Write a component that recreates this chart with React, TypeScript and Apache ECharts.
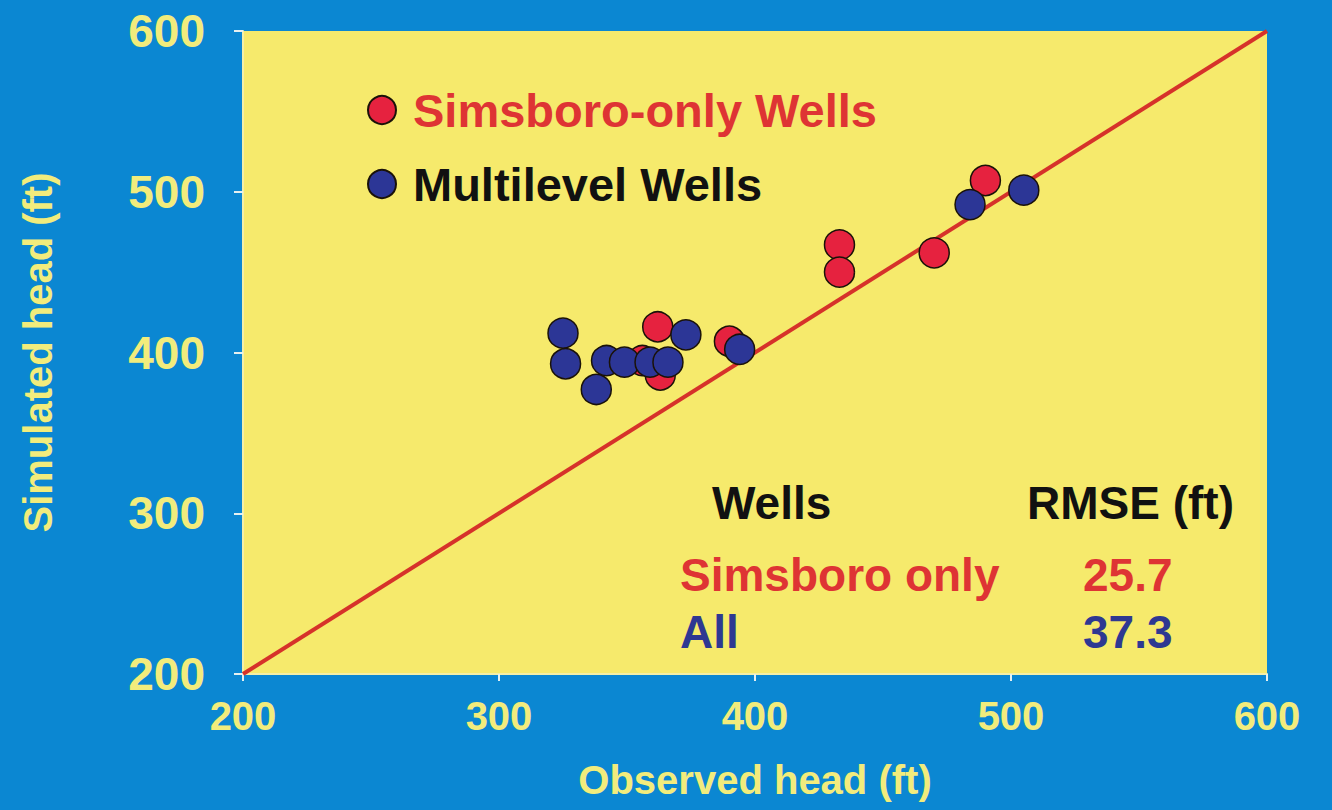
import React, { useEffect, useRef } from "react";
import * as echarts from "echarts";

// Observed vs simulated head (ft)
const simsboroOnly: [number, number][] = [
  [490, 507],
  [433, 467],
  [433, 450],
  [470, 462],
  [362, 416],
  [390, 407],
  [363, 386],
  [356, 395],
];
const multilevel: [number, number][] = [
  [505, 501],
  [484, 492],
  [394, 402],
  [325, 412],
  [326, 393],
  [338, 377],
  [342, 395],
  [349, 394],
  [359, 394],
  [366, 394],
  [373, 411],
];
const identityLine: [number, number][] = [
  [200, 200],
  [600, 600],
];
const axisMin = 200;
const axisMax = 600;
const axisInterval = 100;
const seriesNames = ["Simsboro-only Wells", "Multilevel Wells"];
const tableHeader = ["Wells", "RMSE (ft)"];
const tableRows = [
  { label: "Simsboro only", value: "25.7" },
  { label: "All", value: "37.3" },
];

const BG = "#0b87d2";
const PLOT = "#f6ea6c";
const RED = "#e6223f";
const BLUE = "#2c3696";
const LINE_RED = "#d6322a";
const LABEL_YEL = "#f2ec7c";
const TEXT_RED = "#de3434";
const TEXT_BLUE = "#2e3892";
const FONT = "'Liberation Sans', Arial, sans-serif";

export default function App() {
  const ref = useRef<HTMLDivElement>(null);
  useEffect(() => {
    if (!ref.current) return;
    const chart = echarts.init(ref.current, null, { renderer: "svg" });
    const tableStyle = { fontFamily: FONT, fontWeight: "bold", fontSize: 46 } as any;
    chart.setOption({
      animation: false,
      backgroundColor: BG,
      grid: {
        left: 243,
        right: 65,
        top: 31,
        bottom: 136,
        show: true,
        backgroundColor: PLOT,
        borderWidth: 0,
      },
      legend: {
        orient: "vertical",
        left: 362,
        top: 78,
        icon: "circle",
        itemWidth: 28,
        itemHeight: 28,
        itemGap: 20,
        selectedMode: false,
        data: [
          { name: seriesNames[0], textStyle: { color: TEXT_RED } },
          { name: seriesNames[1], textStyle: { color: "#111111" } },
        ],
        textStyle: {
          fontFamily: FONT,
          fontWeight: "bold",
          fontSize: 47,
          lineHeight: 54,
          padding: [0, 0, 0, 12],
        },
      },
      xAxis: {
        type: "value",
        min: axisMin,
        max: axisMax,
        interval: axisInterval,
        name: "Observed head (ft)",
        nameLocation: "middle",
        nameGap: 86,
        nameTextStyle: {
          color: LABEL_YEL,
          fontFamily: FONT,
          fontWeight: "bold",
          fontSize: 40,
        },
        axisLine: { show: true, lineStyle: { color: "#f4efa8", width: 2 } },
        axisTick: { show: true, length: 7, lineStyle: { color: "#e6f0f0", width: 2 } },
        axisLabel: {
          color: LABEL_YEL,
          fontFamily: FONT,
          fontWeight: "bold",
          fontSize: 40,
          margin: 22,
        },
        splitLine: { show: false },
      },
      yAxis: {
        type: "value",
        min: axisMin,
        max: axisMax,
        interval: axisInterval,
        name: "Simulated head (ft)",
        nameLocation: "middle",
        nameRotate: 90,
        nameGap: 185,
        nameTextStyle: {
          color: LABEL_YEL,
          fontFamily: FONT,
          fontWeight: "bold",
          fontSize: 40,
        },
        axisLine: { show: true, lineStyle: { color: "#f4efa8", width: 2 } },
        axisTick: { show: true, length: 9, lineStyle: { color: "#e6f0f0", width: 2 } },
        axisLabel: {
          color: LABEL_YEL,
          fontFamily: FONT,
          fontWeight: "bold",
          fontSize: 46,
          margin: 38,
        },
        splitLine: { show: false },
      },
      series: [
        {
          type: "line",
          data: identityLine,
          symbol: "none",
          lineStyle: { color: LINE_RED, width: 4 },
          silent: true,
          z: 1,
        },
        {
          name: seriesNames[0],
          type: "scatter",
          data: simsboroOnly,
          symbolSize: 30,
          itemStyle: { color: RED, borderColor: "#1a1208", borderWidth: 1.5, opacity: 1 },
          z: 2,
        },
        {
          name: seriesNames[1],
          type: "scatter",
          data: multilevel,
          symbolSize: 30,
          itemStyle: { color: BLUE, borderColor: "#1a1208", borderWidth: 1.5, opacity: 1 },
          z: 3,
        },
      ],
      graphic: [
        { type: "text", left: 712, top: 480, style: { ...tableStyle, text: tableHeader[0], fill: "#111111" } },
        { type: "text", left: 1027, top: 480, style: { ...tableStyle, text: tableHeader[1], fill: "#111111" } },
        { type: "text", left: 680, top: 552, style: { ...tableStyle, text: tableRows[0].label, fill: TEXT_RED } },
        { type: "text", left: 1083, top: 552, style: { ...tableStyle, text: tableRows[0].value, fill: TEXT_RED } },
        { type: "text", left: 680, top: 609, style: { ...tableStyle, text: tableRows[1].label, fill: TEXT_BLUE } },
        { type: "text", left: 1083, top: 609, style: { ...tableStyle, text: tableRows[1].value, fill: TEXT_BLUE } },
      ],
    });
    return () => chart.dispose();
  }, []);
  return (
    <div
      ref={ref}
      style={{ position: "fixed", left: 0, top: 0, width: 1332, height: 810 }}
    />
  );
}
